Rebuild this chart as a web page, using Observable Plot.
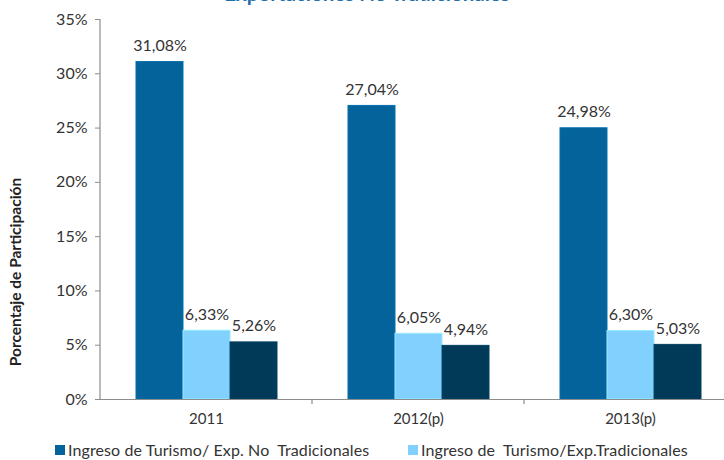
<!DOCTYPE html>
<html><head><meta charset="utf-8">
<script src="https://cdn.jsdelivr.net/npm/d3@7"></script>
<script src="https://cdn.jsdelivr.net/npm/@observablehq/plot@0.6"></script>
<style>
body{margin:0;background:#fff;font-family:Lato,sans-serif;width:724px;height:460px;overflow:hidden;position:relative}
#title{position:absolute;z-index:2;left:0;top:-17px;width:734px;text-align:center;font:bold 20.5px/20px Lato,sans-serif;color:#1f6fa8;white-space:nowrap}
#chart{position:absolute;left:0;top:0;z-index:1}
.item{position:absolute;top:441px;font:16px/18px Lato,sans-serif;color:#333;white-space:pre;display:flex;align-items:center;letter-spacing:0.1px}
.sw{width:10px;height:10px;margin-right:3px;display:inline-block}
</style></head>
<body>
<div id="title">Exportaciones No Tradicionales</div>
<div id="chart"></div>
<div id="legend"></div>
<script>
const years = ["2011", "2012(p)", "2013(p)"];
const keys = ["s1", "s2", "s3"];
const legendLabels = ["Ingreso de Turismo/ Exp. No  Tradicionales", "Ingreso de  Turismo/Exp.Tradicionales"];
const colors = ["#03639a", "#82d0fd", "#003a58"];
const s1 = [31.08, 27.04, 24.98];
const s2 = [6.33, 6.05, 6.30];
const s3 = [5.26, 4.94, 5.03];
const yTicks = [0, 5, 10, 15, 20, 25, 30, 35];
const yTitle = "Porcentaje de Participación";

const series = [s1, s2, s3];
const data = years.flatMap((yr, i) => keys.map((k, j) => ({year: yr, s: k, v: series[j][i]})));
const fmt = v => v.toFixed(2).replace(".", ",") + "%";
const strokeOf = k => d3.color(colors[keys.indexOf(k)]).brighter(0.35).formatHex();

const chart = Plot.plot({
  width: 724, height: 430,
  marginLeft: 100, marginRight: -12, marginTop: 19, marginBottom: 31,
  style: {fontFamily: "Lato, sans-serif", fontSize: "15px", background: "white", overflow: "visible"},
  fx: {domain: years, padding: 0, label: null},
  x: {domain: keys, paddingInner: 0, paddingOuter: 0.755, axis: null},
  y: {domain: [0, 35], label: null},
  color: {domain: keys, range: colors},
  marks: [
    Plot.barY(data, {fx: "year", x: "s", y: "v", fill: "s", stroke: d => strokeOf(d.s), strokeWidth: 1}),
    Plot.ruleY([0], {stroke: "#8c8c8c", strokeWidth: 1.2}),
    Plot.text(data, {fx: "year", x: "s", y: "v", text: d => fmt(d.v), dy: -11, lineAnchor: "bottom", fill: "#333", fontSize: 16}),
    Plot.axisY({ticks: yTicks, tickFormat: d => d + "%", tickSize: 5, tickPadding: 8, stroke: "#8c8c8c", fill: "#333", fontSize: 16, label: null}),
    Plot.axisFx({anchor: "bottom", tickSize: 0, tickPadding: 14, label: null, fill: "#333"})
  ]
});
document.getElementById("chart").appendChild(chart);

const fx = chart.scale("fx"), y = chart.scale("y");
const svg = d3.select(chart);
const x0 = fx.apply(years[0]);
svg.append("line").attr("x1", x0).attr("x2", x0).attr("y1", y.apply(0)).attr("y2", y.apply(35))
  .attr("stroke", "#8c8c8c").attr("stroke-width", 1.2);
years.slice(1).forEach(yr => {
  const xx = fx.apply(yr);
  svg.append("line").attr("x1", xx).attr("x2", xx).attr("y1", y.apply(0)).attr("y2", y.apply(0) + 5)
    .attr("stroke", "#8c8c8c").attr("stroke-width", 1.2);
});
svg.append("text").attr("transform", `translate(17,${(y.apply(0) + y.apply(35)) / 2 + 63}) rotate(-90)`)
  .attr("text-anchor", "middle").attr("dominant-baseline", "middle")
  .attr("font-weight", "bold").attr("font-size", 15.5).attr("fill", "#222").text(yTitle);

const legend = document.getElementById("legend");
const lefts = [55, 408];
legendLabels.forEach((lab, i) => {
  const it = document.createElement("div");
  it.className = "item";
  it.style.left = lefts[i] + "px";
  it.innerHTML = `<span class="sw" style="background:${colors[i]}"></span>`;
  it.appendChild(document.createTextNode(lab));
  legend.appendChild(it);
});
</script>
</body></html>
